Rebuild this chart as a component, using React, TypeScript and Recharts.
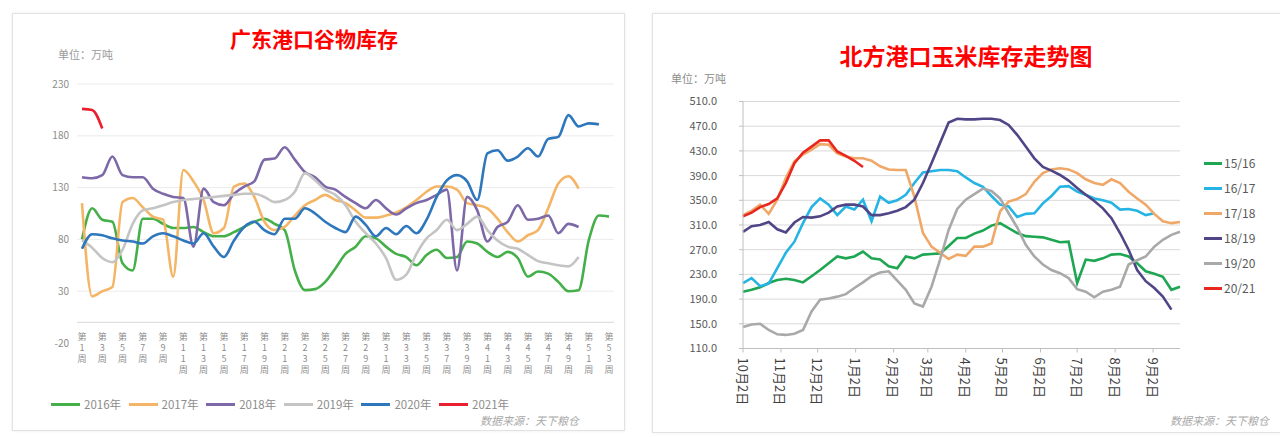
import React from "react";
import { LineChart, Line, XAxis, YAxis, CartesianGrid, ReferenceLine } from "recharts";

// ---- 广东港口谷物库存 (weekly) ----
const weekLabels = Array.from({ length: 53 }, (_, i) => `第${i + 1}周`);
const gdTicks = [-20, 30, 80, 130, 180, 230];

const gd2016 = [80, 110, 99, 97, 57, 50, 100, 100, 95, 91, 91, 92, 87, 83, 83, 87, 92, 97, 100, 95, 89, 50, 31, 32, 39, 52, 66, 73, 83, 81, 73, 66, 63, 55, 65, 70, 62, 63, 78, 76, 68, 63, 68, 62, 44, 49, 47, 39, 30, 31, 79, 103, 102];
const gd2017 = [115, 25, 30, 34, 116, 120, 111, 102, 99, 44, 147, 136, 118, 86, 91, 131, 134, 121, 97, 89, 92, 103, 113, 118, 123, 118, 115, 108, 101, 101, 103, 106, 111, 118, 126, 131, 131, 128, 115, 113, 110, 100, 87, 78, 84, 89, 110, 134, 141, 129];
const gd2018 = [140, 139, 142, 160, 142, 140, 140, 129, 124, 121, 120, 73, 129, 116, 113, 124, 131, 136, 157, 158, 169, 157, 145, 140, 131, 128, 121, 115, 110, 118, 110, 104, 110, 115, 118, 123, 128, 50, 121, 108, 78, 92, 97, 113, 99, 100, 103, 86, 95, 92];
const gd2019 = [79, 72, 62, 58, 70, 95, 108, 110, 113, 116, 118, 119, 120, 121, 122, 123, 124, 124, 121, 116, 118, 126, 144, 137, 128, 123, 113, 97, 86, 76, 62, 41, 46, 66, 81, 89, 99, 89, 95, 102, 89, 79, 73, 71, 65, 59, 57, 55, 54, 63];
const gd2020 = [71, 85, 84, 81, 79, 78, 76, 83, 86, 83, 79, 76, 86, 73, 63, 79, 92, 97, 89, 85, 100, 100, 110, 105, 97, 91, 87, 102, 94, 83, 91, 85, 93, 86, 99, 121, 137, 142, 136, 118, 163, 166, 156, 160, 168, 160, 177, 179, 200, 189, 192, 191];
const gd2021 = [206, 205, 187];

const gdSeries = [
  { key: "y2016", name: "2016年", color: "#45b04a", values: gd2016 },
  { key: "y2017", name: "2017年", color: "#f4b566", values: gd2017 },
  { key: "y2018", name: "2018年", color: "#7d68a8", values: gd2018 },
  { key: "y2019", name: "2019年", color: "#c4c4c4", values: gd2019 },
  { key: "y2020", name: "2020年", color: "#2f77bd", values: gd2020 },
  { key: "y2021", name: "2021年", color: "#e8202f", values: gd2021 },
];

const gdData = weekLabels.map((week, i) => {
  const row: Record<string, string | number | null> = { week };
  gdSeries.forEach((s) => {
    row[s.key] = s.values[i] ?? null;
  });
  return row;
});

// ---- 北方港口玉米库存 (weekly, x = days since 10月2日) ----
const cornDays = Array.from({ length: 52 }, (_, i) => i * 7);
const monthDays = [0, 31, 61, 92, 123, 151, 182, 212, 243, 273, 304, 335];
const monthLabels = ["10月2日", "11月2日", "12月2日", "1月2日", "2月2日", "3月2日", "4月2日", "5月2日", "6月2日", "7月2日", "8月2日", "9月2日"];
const cornTicks = [110, 150, 190, 230, 270, 310, 350, 390, 430, 470, 510];

const c1516 = [202, 205, 209, 216, 221, 223, 221, 217, 227, 237, 248, 259, 256, 259, 267, 256, 254, 243, 240, 259, 256, 262, 263, 264, 276, 289, 289, 296, 301, 309, 313, 305, 297, 292, 291, 290, 286, 282, 283, 216, 254, 252, 256, 262, 263, 259, 248, 235, 231, 226, 205, 210];
const c1617 = [216, 224, 211, 215, 240, 265, 283, 313, 339, 353, 343, 326, 340, 335, 351, 316, 356, 346, 350, 359, 378, 395, 397, 399, 399, 397, 387, 378, 372, 357, 343, 340, 323, 328, 329, 345, 357, 372, 373, 364, 359, 353, 350, 346, 335, 336, 333, 326, 329];
const c1718 = [326, 333, 343, 328, 351, 386, 413, 424, 432, 441, 440, 426, 421, 418, 418, 414, 405, 400, 399, 399, 356, 297, 275, 265, 255, 262, 260, 275, 275, 280, 332, 348, 352, 360, 380, 394, 400, 402, 400, 394, 384, 378, 375, 384, 378, 364, 353, 343, 328, 316, 313, 315];
const c1819 = [299, 308, 310, 315, 303, 298, 314, 323, 322, 324, 330, 340, 343, 343, 340, 326, 326, 329, 333, 339, 351, 378, 410, 443, 476, 482, 481, 481, 482, 482, 480, 472, 456, 437, 418, 404, 398, 391, 382, 370, 359, 349, 337, 321, 297, 270, 237, 219, 208, 194, 173];
const c1920 = [145, 149, 150, 140, 133, 132, 134, 140, 170, 189, 191, 194, 198, 208, 217, 227, 233, 235, 220, 205, 183, 178, 210, 254, 302, 336, 351, 360, 369, 365, 353, 329, 306, 278, 259, 246, 237, 232, 224, 206, 202, 193, 202, 205, 210, 246, 253, 259, 275, 286, 294, 299];
const c2021 = [324, 330, 339, 344, 353, 378, 410, 427, 437, 447, 447, 429, 422, 414, 404];

const cornSeries = [
  { key: "s1516", name: "15/16", color: "#1fa653", values: c1516 },
  { key: "s1617", name: "16/17", color: "#25b4e4", values: c1617 },
  { key: "s1718", name: "17/18", color: "#f0a868", values: c1718 },
  { key: "s1819", name: "18/19", color: "#4f4587", values: c1819 },
  { key: "s1920", name: "19/20", color: "#a9a9a9", values: c1920 },
  { key: "s2021", name: "20/21", color: "#e8281e", values: c2021 },
];

const cornData = cornDays.map((day, i) => {
  const row: Record<string, number | null> = { day };
  cornSeries.forEach((s) => {
    row[s.key] = s.values[i] ?? null;
  });
  return row;
});

const FONT = "'Noto Sans CJK SC', 'Noto Sans', sans-serif";

// Excel-style stacked (one character per row) week label
const StackedTick = (props: any) => {
  const { x, y, payload } = props;
  const chars = Array.from(String(payload.value));
  return (
    <g>
      {chars.map((c, i) => (
        <text
          key={i}
          x={x}
          y={y - 3 + i * 11}
          textAnchor="middle"
          fontSize={9}
          fill="#8c8c8c"
          fontFamily={FONT}
        >
          {c}
        </text>
      ))}
    </g>
  );
};

const MonthTick = (props: any) => {
  const { x, y, payload } = props;
  const label = monthLabels[monthDays.indexOf(payload.value)];
  return (
    <text
      x={x}
      y={y}
      transform={`rotate(90 ${x} ${y})`}
      textAnchor="start"
      dominantBaseline="central"
      fontSize={13}
      fill="#404040"
      fontFamily={FONT}
    >
      {label}
    </text>
  );
};

const abs = (left: number, top: number): React.CSSProperties => ({ position: "absolute", left, top });

const App = () => {
  return (
    <div style={{ position: "absolute", left: 0, top: 0, width: 1280, height: 437, overflow: "hidden", background: "#fff", fontFamily: FONT }}>
      {/* panels */}
      <div style={{ ...abs(12, 13), width: 611, height: 416, border: "1px solid #e2e2e2", boxShadow: "0 0 3px rgba(0,0,0,0.08)" }} />
      <div style={{ ...abs(652, 13), width: 640, height: 418, border: "1px solid #e2e2e2", boxShadow: "0 0 3px rgba(0,0,0,0.08)" }} />

      {/* left chart texts */}
      <div style={{ ...abs(214, 26), width: 200, textAlign: "center", color: "#ff0000", fontSize: 21, fontWeight: 700, lineHeight: "24px" }}>
        广东港口谷物库存
      </div>
      <div style={{ ...abs(58, 47), color: "#9a9a9a", fontSize: 11, lineHeight: "14px" }}>单位：万吨</div>

      <div style={abs(0, 0)}>
        <LineChart width={640} height={437} data={gdData} margin={{ top: 84, right: 26, left: 37, bottom: 54 }}>
          <CartesianGrid vertical={false} horizontalValues={[30, 80, 130, 180, 230]} stroke="#ececec" />
          <ReferenceLine y={0} stroke="#d6d6d6" />
          <XAxis
            dataKey="week"
            interval={1}
            tick={<StackedTick />}
            tickLine={false}
            axisLine={false}
            tickSize={0}
            tickMargin={0}
            height={40}
            padding={{ left: 5, right: 5 }}
          />
          <YAxis
            domain={[-20, 230]}
            ticks={gdTicks}
            axisLine={false}
            tickLine={false}
            width={40}
            tick={{ fill: "#8c8c8c", fontSize: 10, fontFamily: FONT }}
          />
          {gdSeries.map((s) => (
            <Line
              key={s.key}
              type="monotone"
              dataKey={s.key}
              name={s.name}
              stroke={s.color}
              strokeWidth={2.6}
              dot={false}
              isAnimationActive={false}
            />
          ))}
        </LineChart>
      </div>

      {gdSeries.map((s, i) => (
        <div key={s.key} style={{ ...abs(51 + i * 77.6, 397), display: "flex", alignItems: "center", height: 14 }}>
          <div style={{ width: 29, height: 3, background: s.color, marginRight: 4 }} />
          <span style={{ fontSize: 11.5, color: "#8c8c8c", lineHeight: "14px" }}>{s.name}</span>
        </div>
      ))}
      <div style={{ ...abs(480, 413), fontSize: 11, color: "#a8a8a8", fontStyle: "italic", lineHeight: "14px" }}>数据来源：天下粮仓</div>

      {/* right chart texts */}
      <div style={{ ...abs(806, 42), width: 320, textAlign: "center", color: "#ff0000", fontSize: 23, fontWeight: 700, lineHeight: "27px" }}>
        北方港口玉米库存走势图
      </div>
      <div style={{ ...abs(671, 71), color: "#8c8c8c", fontSize: 11, lineHeight: "14px" }}>单位：万吨</div>

      <div style={abs(640, 0)}>
        <LineChart width={640} height={437} data={cornData} margin={{ top: 101.5, right: 100, left: 43, bottom: 28.5 }}>
          <CartesianGrid vertical={false} stroke="#d9d9d9" />
          <XAxis
            dataKey="day"
            type="number"
            domain={[0, 357]}
            ticks={monthDays}
            tick={<MonthTick />}
            axisLine={{ stroke: "#bfbfbf" }}
            tickLine={{ stroke: "#bfbfbf" }}
            tickSize={4}
            tickMargin={5}
            height={60}
            interval={0}
          />
          <YAxis
            domain={[110, 510]}
            ticks={cornTicks}
            axisLine={{ stroke: "#bfbfbf" }}
            tickLine={{ stroke: "#bfbfbf" }}
            tickSize={4}
            tickMargin={22}
            width={60}
            tickFormatter={(v: number) => v.toFixed(1)}
            tick={{ fill: "#595959", fontSize: 11, fontFamily: FONT }}
          />
          {cornSeries.map((s) => (
            <Line
              key={s.key}
              type="linear"
              dataKey={s.key}
              name={s.name}
              stroke={s.color}
              strokeWidth={2.6}
              dot={false}
              isAnimationActive={false}
            />
          ))}
        </LineChart>
      </div>

      {cornSeries.map((s, i) => (
        <div key={s.key} style={{ ...abs(1204, 156 + i * 25), display: "flex", alignItems: "center", height: 14 }}>
          <div style={{ width: 18, height: 3, background: s.color, marginRight: 2 }} />
          <span style={{ fontSize: 12, color: "#595959", lineHeight: "14px" }}>{s.name}</span>
        </div>
      ))}
      <div style={{ ...abs(1170, 413), fontSize: 11, color: "#a8a8a8", fontStyle: "italic", lineHeight: "14px", whiteSpace: "nowrap" }}>
        数据来源：天下粮仓
      </div>
    </div>
  );
};

export default App;
